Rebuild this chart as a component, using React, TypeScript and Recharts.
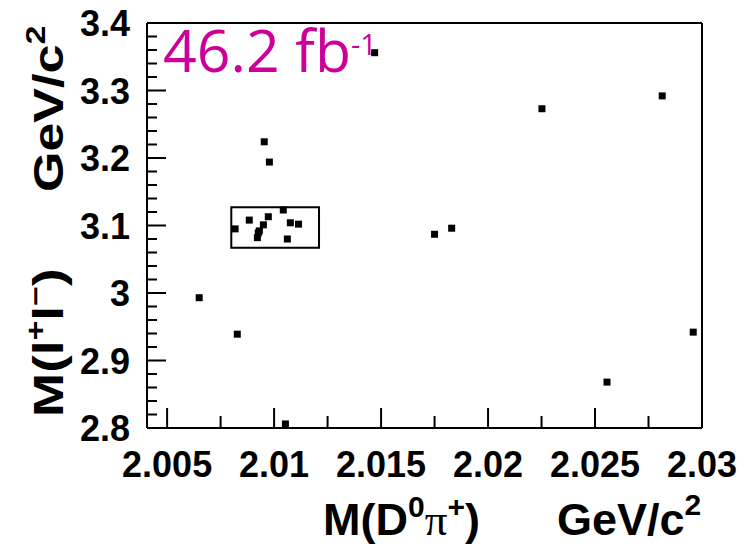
import React from 'react';
import { ScatterChart, Scatter, XAxis, YAxis, ReferenceArea, ReferenceLine, Label } from 'recharts';

// M(D0 pi+) in GeV/c^2
const massDpi = [
  2.00954, 2.00978, 2.00818, 2.00884, 2.00973, 2.0095, 2.00926, 2.00922, 2.00931,
  2.01043, 2.01062, 2.01076, 2.01114, 2.0147, 2.02252, 2.02814, 2.0175, 2.0183,
  2.0065, 2.00828, 2.01053, 2.02556, 2.02959,
];
// M(l+ l-) in GeV/c^2
const massLL = [
  3.224, 3.194, 3.095, 3.108, 3.113, 3.101, 3.089, 3.082, 3.092,
  3.123, 3.08, 3.104, 3.102, 3.356, 3.273, 3.292, 3.087, 3.096,
  2.993, 2.939, 2.806, 2.868, 2.942,
];

const xDomain = [2.00406, 2.03];
const yDomain = [2.8, 3.4];

const xMajorTicks = [2.005, 2.01, 2.015, 2.02, 2.025, 2.03];
const xMajorLabels = ['2.005', '2.01', '2.015', '2.02', '2.025', '2.03'];
const xMinorTicks = [2.0075, 2.0125, 2.0175, 2.0225, 2.0275];

const yMajorTicks = [2.8, 2.9, 3.0, 3.1, 3.2, 3.3, 3.4];
const yMajorLabels = ['2.8', '2.9', '3', '3.1', '3.2', '3.3', '3.4'];
const yMinorTicks = [
  2.82, 2.84, 2.86, 2.88, 2.92, 2.94, 2.96, 2.98, 3.02, 3.04, 3.06, 3.08,
  3.12, 3.14, 3.16, 3.18, 3.22, 3.24, 3.26, 3.28, 3.32, 3.34, 3.36, 3.38,
];

const signalBoxX = [2.008, 2.0121];
const signalBoxY = [3.067, 3.127];

const lumiText = '46.2 fb';
const lumiExp = '-1';

const data = massDpi.map((x, i) => ({ x, y: massLL[i] }));

const FONT = "'Liberation Sans', Arial, Helvetica, sans-serif";

const findIdx = (arr: number[], v: number) => arr.findIndex((t) => Math.abs(t - v) < 1e-9);

const XTick = (props: any) => {
  const { x, y, payload } = props;
  const idx = findIdx(xMajorTicks, payload.value);
  const major = idx >= 0;
  return (
    <g>
      <line x1={x} y1={y} x2={x} y2={y - (major ? 20 : 12)} stroke="#000" strokeWidth={2} />
      {major && (
        <text x={x} y={y + 49} textAnchor="middle" fontFamily={FONT} fontWeight="bold" fontSize={36} fill="#000">
          {xMajorLabels[idx]}
        </text>
      )}
    </g>
  );
};

const YTick = (props: any) => {
  const { x, y, payload } = props;
  const idx = findIdx(yMajorTicks, payload.value);
  const major = idx >= 0;
  return (
    <g>
      <line x1={x} y1={y} x2={x + (major ? 19 : 10)} y2={y} stroke="#000" strokeWidth={2} />
      {major && (
        <text x={x - 17} y={y + 13} textAnchor="end" fontFamily={FONT} fontWeight="bold" fontSize={36} fill="#000">
          {yMajorLabels[idx]}
        </text>
      )}
    </g>
  );
};

const XTitle = () => (
  <g fontFamily={FONT} fontWeight="bold" fill="#000">
    <text x={323} y={535} fontSize={45}>
      M(D
      <tspan fontSize={30} dy={-18}>0</tspan>
      <tspan dy={18} fontFamily="'Liberation Serif', 'DejaVu Serif', serif" fontWeight="normal">π</tspan>
      <tspan fontSize={30} dy={-18}>+</tspan>
      <tspan dy={18}>)</tspan>
    </text>
    <text x={557} y={535} fontSize={45}>
      GeV/c
      <tspan fontSize={30} dy={-20}>2</tspan>
    </text>
  </g>
);

const YTitle = () => (
  <g fontFamily={FONT} fontWeight="bold" fill="#000">
    <text transform="translate(63,417) rotate(-90) scale(1,0.8)" x={0} y={0} fontSize={53}>
      M(l
      <tspan fontSize={34} dy={-22}>+</tspan>
      <tspan dy={22}>l</tspan>
      <tspan fontSize={34} dy={-22}>−</tspan>
      <tspan dy={22}>)</tspan>
    </text>
    <text transform="translate(63,192) rotate(-90) scale(1,0.8)" x={0} y={0} fontSize={52}>
      GeV/c
      <tspan fontSize={34} dy={-22}>2</tspan>
    </text>
  </g>
);

const LumiLabel = () => (
  <text x={163} y={72} fontFamily="'Open Sans', 'DejaVu Sans', sans-serif" fontSize={59} fill="#cc0099">
    {lumiText}
    <tspan fontSize={29} dy={-17}>{lumiExp}</tspan>
  </text>
);

const Marker = (props: any) => {
  const { cx, cy } = props;
  if (cx == null || cy == null) return null;
  return <rect x={cx - 3.5} y={cy - 3.5} width={7} height={7} fill="#000" />;
};

export default function App() {
  return (
    <div style={{ position: 'absolute', left: 0, top: 0, width: 742, height: 550, overflow: 'hidden', background: '#fff' }}>
      <ScatterChart width={742} height={550} margin={{ top: 23, right: 40, bottom: 0, left: 0 }}>
        <XAxis
          type="number"
          dataKey="x"
          domain={xDomain}
          allowDataOverflow
          ticks={[...xMajorTicks, ...xMinorTicks].sort((a, b) => a - b)}
          interval={0}
          tickSize={0}
          tickMargin={0}
          tickLine={false}
          tick={<XTick />}
          axisLine={{ stroke: '#000', strokeWidth: 2 }}
          height={122}
        >
          <Label content={<XTitle />} />
        </XAxis>
        <YAxis
          type="number"
          dataKey="y"
          domain={yDomain}
          allowDataOverflow
          ticks={[...yMajorTicks, ...yMinorTicks].sort((a, b) => a - b)}
          interval={0}
          tickSize={0}
          tickMargin={0}
          tickLine={false}
          tick={<YTick />}
          axisLine={{ stroke: '#000', strokeWidth: 2 }}
          width={147}
        >
          <Label content={<YTitle />} />
        </YAxis>
        <ReferenceLine y={yDomain[1]} stroke="#000" strokeWidth={2} ifOverflow="visible">
          <Label content={<LumiLabel />} />
        </ReferenceLine>
        <ReferenceLine x={xDomain[1]} stroke="#000" strokeWidth={2} ifOverflow="visible" />
        <ReferenceArea
          x1={signalBoxX[0]}
          x2={signalBoxX[1]}
          y1={signalBoxY[0]}
          y2={signalBoxY[1]}
          fill="none"
          fillOpacity={0}
          stroke="#000"
          strokeWidth={2}
          ifOverflow="visible"
        />
        <Scatter data={data} shape={<Marker />} isAnimationActive={false} />
      </ScatterChart>
    </div>
  );
}
